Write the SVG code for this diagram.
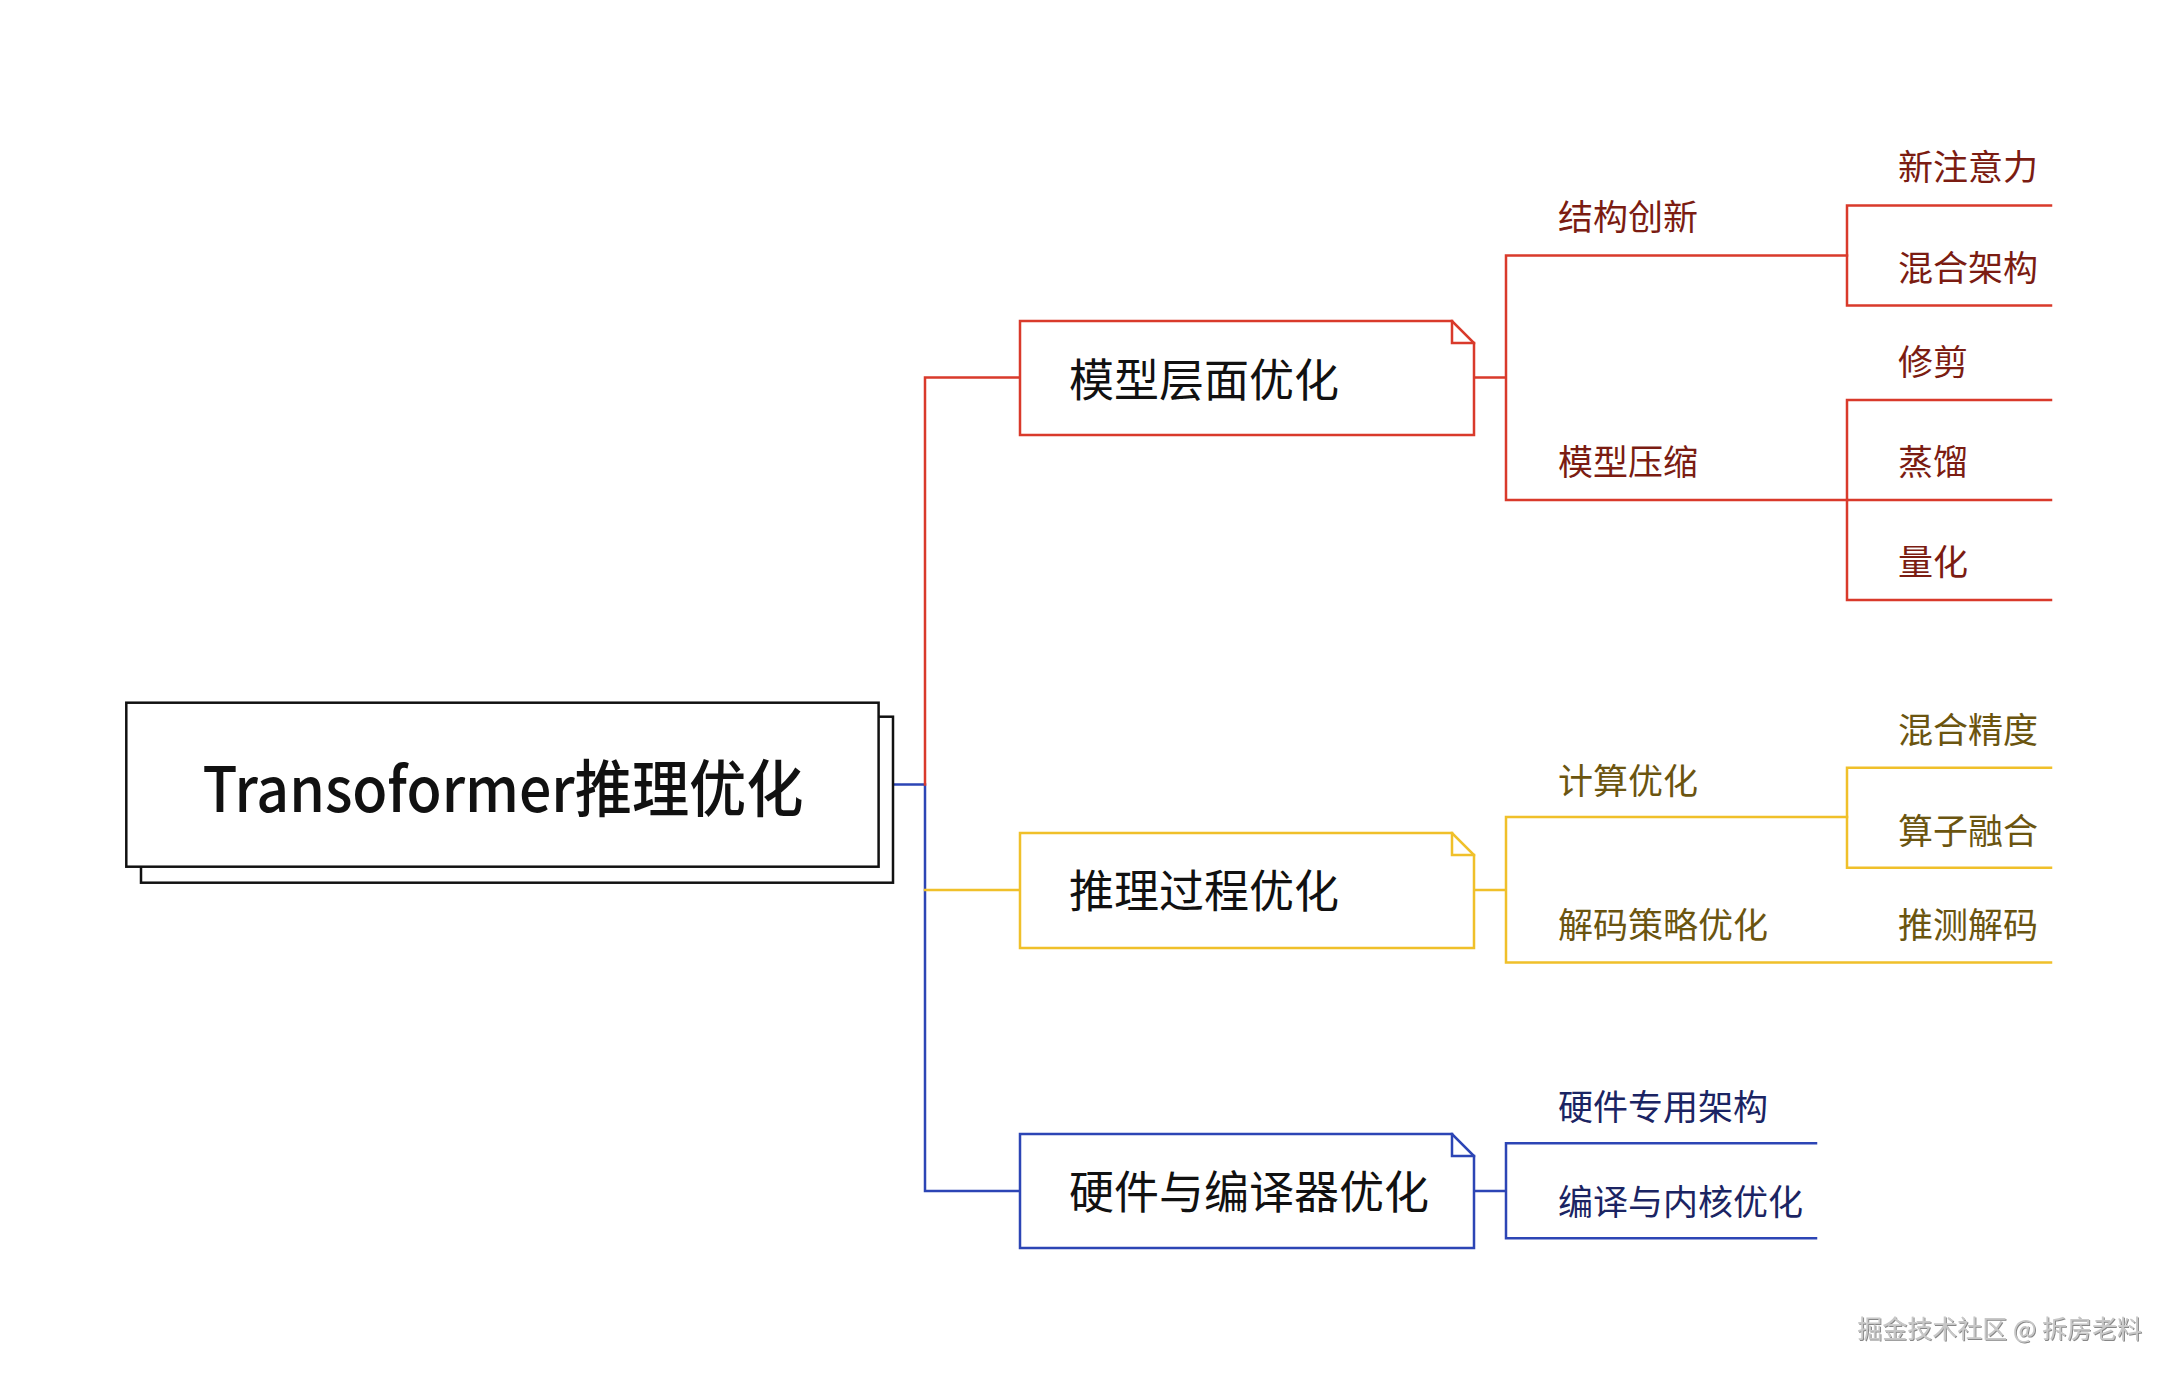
<svg xmlns="http://www.w3.org/2000/svg" width="2177" height="1377" viewBox="0 0 2177 1377">
<style>
text{font-family:"Noto Sans CJK SC","Noto Sans",sans-serif}
.ln{fill:none;stroke-width:2.5;stroke-linecap:square}
.r{stroke:#d93a2b}.y{stroke:#f0c02a}.b{stroke:#2c45b5}
.tr{fill:#7b1c12}.ty{fill:#6b5510}.tb{fill:#1b2463}
.l1{font-size:45px;fill:#111}
.l2{font-size:35px}
.box{fill:#fff;stroke-width:2.5}
</style>
<defs>
<filter id="emb" x="-5%" y="-20%" width="110%" height="140%">
<feDropShadow dx="1" dy="1" stdDeviation="0.6" flood-color="#555" flood-opacity="0.7"/>
</filter>
</defs>
<rect width="2177" height="1377" fill="#fff"/>

<g id="connectors">
<path class="ln b" d="M893,784.5 H925 V1191 H1020"/>
<path class="ln r" d="M925,784.5 V377.6 H1020"/>
<path class="ln y" d="M925,890 H1020"/>
<path class="ln r" d="M1474,377.6 H1506 M1506,255.5 V500 M1506,255.5 H1847 M1506,500 H1847"/>
<path class="ln r" d="M1847,205.5 V305.5 M1847,205.5 H2051 M1847,305.5 H2051"/>
<path class="ln r" d="M1847,400 V600 M1847,400 H2051 M1847,500 H2051 M1847,600 H2051"/>
<path class="ln y" d="M1474,890 H1506 M1506,817 V962.5 M1506,817 H1847 M1506,962.5 H2051"/>
<path class="ln y" d="M1847,767.7 V867.7 M1847,767.7 H2051 M1847,867.7 H2051"/>
<path class="ln b" d="M1474,1191 H1506 M1506,1143.3 V1238.3 M1506,1143.3 H1816 M1506,1238.3 H1816"/>
</g>

<g id="root">
<rect x="141" y="716.7" width="752" height="166" fill="#fff" stroke="#111" stroke-width="2.5"/>
<rect x="126.3" y="702.7" width="752.3" height="164" fill="#fff" stroke="#111" stroke-width="2.5"/>
<text x="503" y="812" font-size="62" font-weight="500" fill="#111" text-anchor="middle" textLength="601" lengthAdjust="spacingAndGlyphs">Transoformer推理优化</text>
</g>

<g id="n-model">
<path class="box r" d="M1020,321 H1452 L1474,343 V435 H1020 Z"/>
<path class="ln r" d="M1452,321 V343 H1474"/>
<text class="l1" x="1069" y="397">模型层面优化</text>
</g>
<g id="n-infer">
<path class="box y" d="M1020,833 H1452 L1474,855 V948 H1020 Z"/>
<path class="ln y" d="M1452,833 V855 H1474"/>
<text class="l1" x="1069" y="908">推理过程优化</text>
</g>
<g id="n-hw">
<path class="box b" d="M1020,1134 H1452 L1474,1156 V1248 H1020 Z"/>
<path class="ln b" d="M1452,1134 V1156 H1474"/>
<text class="l1" x="1069" y="1209">硬件与编译器优化</text>
</g>

<g id="n-struct"><text class="l2 tr" x="1558" y="230">结构创新</text></g>
<g id="n-newatt"><text class="l2 tr" x="1898" y="180">新注意力</text></g>
<g id="n-hybrid"><text class="l2 tr" x="1898" y="281">混合架构</text></g>
<g id="n-compress"><text class="l2 tr" x="1558" y="475">模型压缩</text></g>
<g id="n-prune"><text class="l2 tr" x="1898" y="375">修剪</text></g>
<g id="n-distill"><text class="l2 tr" x="1898" y="475">蒸馏</text></g>
<g id="n-quant"><text class="l2 tr" x="1898" y="575">量化</text></g>

<g id="n-compute"><text class="l2 ty" x="1558" y="793.5">计算优化</text></g>
<g id="n-mixprec"><text class="l2 ty" x="1898" y="743">混合精度</text></g>
<g id="n-fusion"><text class="l2 ty" x="1898" y="843.5">算子融合</text></g>
<g id="n-decode"><text class="l2 ty" x="1558" y="938">解码策略优化</text></g>
<g id="n-spec"><text class="l2 ty" x="1898" y="938">推测解码</text></g>

<g id="n-hwarch"><text class="l2 tb" x="1558" y="1120">硬件专用架构</text></g>
<g id="n-compiler"><text class="l2 tb" x="1558" y="1214.7">编译与内核优化</text></g>

<text x="2142" y="1338" font-size="25" fill="#c8c8c8" text-anchor="end" filter="url(#emb)">掘金技术社区 @ 拆房老料</text>
</svg>
